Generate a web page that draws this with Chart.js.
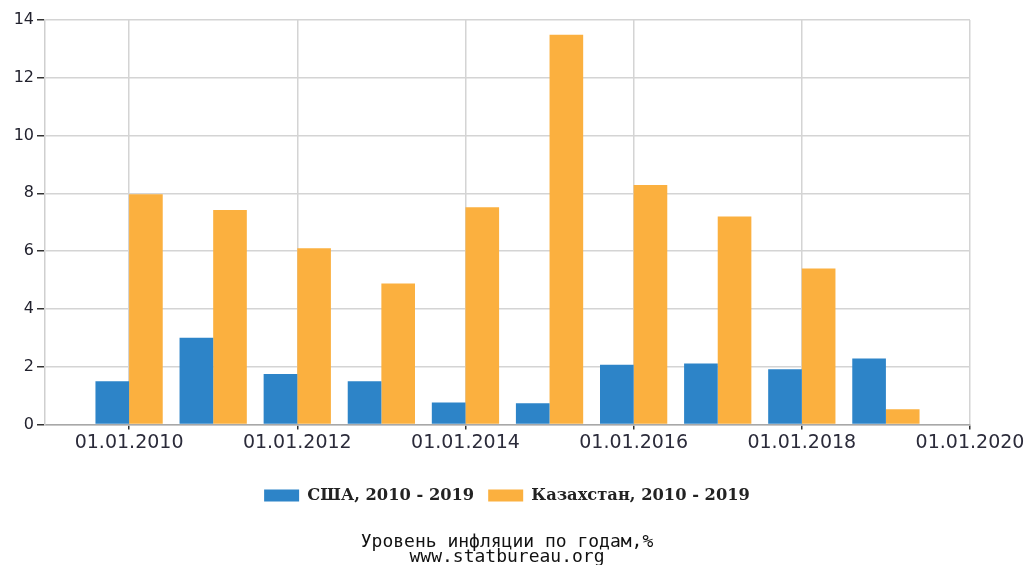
<!DOCTYPE html>
<html>
<head>
<meta charset="utf-8">
<script src="https://cdn.jsdelivr.net/npm/chart.js@4"></script>
<style>
    html, body { margin: 0; padding: 0; background: #fff; }
</style>
</head>
<body>
<canvas id="inflChart" width="1030" height="565"></canvas>
<script>
const years = [2010, 2011, 2012, 2013, 2014, 2015, 2016, 2017, 2018, 2019];
const usaValues = [1.5, 3.0, 1.75, 1.5, 0.76, 0.73, 2.07, 2.11, 1.91, 2.28];
const kazValues = [7.97, 7.42, 6.1, 4.88, 7.52, 13.49, 8.29, 7.2, 5.4, 0.53];
const xTickValues = [2010, 2012, 2014, 2016, 2018, 2020];
const xTickLabels = ["01.01.2010", "01.01.2012", "01.01.2014", "01.01.2016", "01.01.2018", "01.01.2020"];
const yTickValues = [0, 2, 4, 6, 8, 10, 12, 14];

const ctx = document.getElementById("inflChart").getContext("2d");
new Chart(ctx, {
    type: "bar",
    data: {
        datasets: [
            {
                label: "США, 2010 - 2019",
                data: years.map((y, i) => ({ x: y, y: usaValues[i] })),
                backgroundColor: "#2d84c8",
            },
            {
                label: "Казахстан, 2010 - 2019",
                data: years.map((y, i) => ({ x: y, y: kazValues[i] })),
                backgroundColor: "#fbb03f",
            },
        ],
    },
    options: {
        responsive: false,
        animation: false,
        categoryPercentage: 0.8,
        barPercentage: 1.0,
        layout: { padding: { top: 20, right: 16, left: 0, bottom: 0 } },
        scales: {
            x: {
                type: "linear",
                min: 2009,
                max: 2020,
                offset: false,
                afterBuildTicks: (scale) => {
                    scale.ticks = xTickValues.map((v) => ({ value: v }));
                },
                afterFit: (scale) => {
                    scale.height = 49;
                },
                grid: {
                    offset: false,
                    color: "#d4d4d4",
                    tickColor: "#333",
                    tickLength: 5,
                    lineWidth: 1.5,
                },
                border: { color: "#a8a8a8", width: 1.5 },
                ticks: {
                    padding: 2,
                    color: "#2b2b3a",
                    font: { family: "DejaVu Sans", size: 19 },
                    maxRotation: 0,
                    autoSkip: false,
                    callback: (v) => xTickLabels[xTickValues.indexOf(v)],
                },
            },
            y: {
                min: 0,
                max: 14,
                afterBuildTicks: (scale) => {
                    scale.ticks = yTickValues.map((v) => ({ value: v }));
                },
                afterFit: (scale) => {
                    scale.width = 45;
                },
                grid: {
                    color: "#d4d4d4",
                    tickColor: "#333",
                    tickLength: 8,
                    lineWidth: 1.5,
                },
                border: { color: "#cfcfcf", width: 1.5 },
                ticks: {
                    padding: 3,
                    color: "#22222e",
                    font: { family: "DejaVu Sans", size: 16 },
                },
            },
            // empty right axis, only keeps room so legend/title stay centred
            yRight: {
                position: "right",
                min: 0,
                max: 14,
                grid: { display: false },
                border: { display: false },
                ticks: { display: false },
                afterFit: (scale) => {
                    scale.width = 44;
                },
            },
        },
        plugins: {
            legend: {
                position: "bottom",
                labels: {
                    boxWidth: 35,
                    boxHeight: 12,
                    padding: 14,
                    color: "#222",
                    font: { family: "DejaVu Serif", size: 16.3, weight: "bold" },
                },
            },
            title: {
                display: true,
                position: "bottom",
                text: ["Уровень инфляции по годам,%", "www.statbureau.org"],
                color: "#111",
                font: { family: "DejaVu Sans Mono", size: 18, weight: "normal", lineHeight: 0.84 },
                padding: { top: 21, bottom: 0 },
            },
            tooltip: { enabled: false },
        },
    },
});
</script>
</body>
</html>
